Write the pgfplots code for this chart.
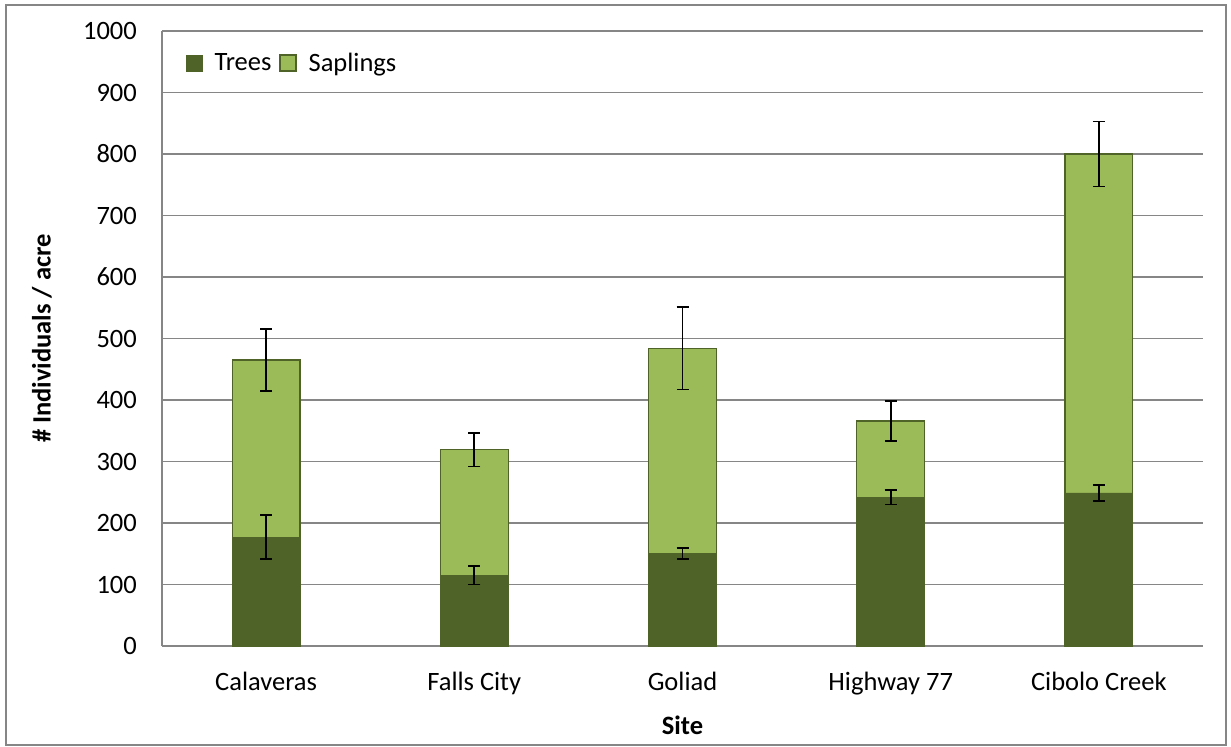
\documentclass[border=0pt]{standalone}
\usepackage{pgfplots}
\pgfplotsset{compat=1.18}
\usepackage{fontspec}
\setmainfont{Carlito}
\definecolor{trees}{HTML}{4F6228}
\definecolor{saps}{HTML}{9BBB59}
\definecolor{gridc}{HTML}{868686}
\begin{document}
\begin{tikzpicture}
\begin{axis}[
  name=ax,
  scale only axis, width=1041pt, height=615pt,
  xmin=-0.5, xmax=4.5, ymin=0, ymax=1000,
  xtick={0,1,2,3,4},
  xticklabels={Calaveras, Falls City, Goliad, Highway 77, Cibolo Creek},
  ytick={0,100,...,1000},
  axis lines*=left,
  axis line style={gridc, line width=1.5pt},
  major tick length=0pt,
  ymajorgrids, grid style={gridc, line width=1.6pt},
  font=\fontsize{26.5}{31}\selectfont,
  /pgf/number format/assume math mode=true,
  /pgf/number format/1000 sep={},
  yticklabel style={anchor=east, inner sep=0pt, xshift=-25pt},
  xticklabel style={anchor=base, inner sep=0pt, yshift=-44pt},
  xlabel={\bfseries Site},
  xlabel style={at={(axis description cs:0.5,-0.1431)}, anchor=base, inner sep=0pt},
  ylabel={\bfseries \# Individuals / acre},
  ylabel style={at={(axis description cs:-0.1153,0.5)}, anchor=center, inner sep=0pt},
  legend style={at={(axis description cs:0.023,0.948)}, anchor=west, draw=none, fill=none,
    legend columns=-1, inner sep=0pt,
    nodes={inner sep=0pt},
    /tikz/every odd column/.append style={column sep=12pt},
    /tikz/every even column/.append style={column sep=8pt}},
  legend image code/.code={\draw[#1] (0pt,-8pt) rectangle (16pt,8pt);},
]
\addplot[ybar, bar width=0.325, bar shift=0pt, fill=saps, draw=trees, line width=1.2pt, forget plot,
  error bars/.cd, y dir=both, y explicit,
  error bar style={black, line width=1.8pt},
  error mark options={black, line width=1.8pt, mark size=6pt, rotate=90}]
  coordinates {(0,465) +- (0,51) (1,319) +- (0,27) (2,484) +- (0,67) (3,366) +- (0,32) (4,800) +- (0,53)};
\addplot[ybar, bar width=0.325, bar shift=0pt, fill=trees, draw=trees, line width=0.5pt, forget plot,
  error bars/.cd, y dir=both, y explicit,
  error bar style={black, line width=1.8pt},
  error mark options={black, line width=1.8pt, mark size=6pt, rotate=90}]
  coordinates {(0,177) +- (0,36) (1,115) +- (0,15) (2,151) +- (0,9) (3,242) +- (0,12) (4,249) +- (0,13)};
\addlegendimage{fill=trees, draw=trees}
\addlegendentry{Trees}
\addlegendimage{fill=saps, draw=trees, line width=1.2pt}
\addlegendentry{Saplings}
\end{axis}
\draw[gridc, line width=1.5pt] ([xshift=-156pt,yshift=-99pt]ax.south west) rectangle ([xshift=23pt,yshift=26pt]ax.north east);
\path ([xshift=-162pt,yshift=-100pt]ax.south west) rectangle ([xshift=28pt,yshift=31pt]ax.north east);
\end{tikzpicture}
\end{document}
